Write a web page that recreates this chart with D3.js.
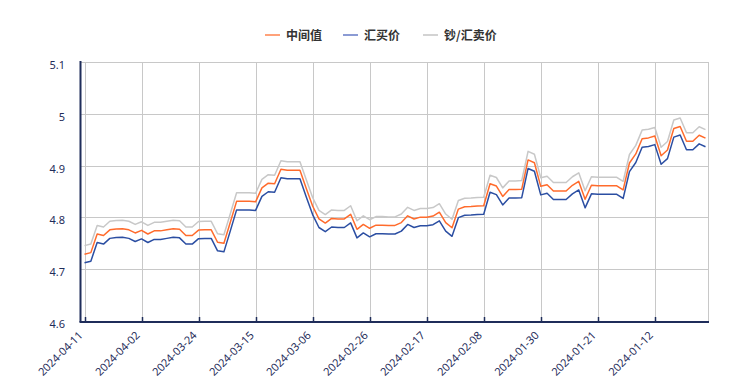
<!DOCTYPE html>
<html>
<head>
<meta charset="utf-8">
<script src="https://cdn.jsdelivr.net/npm/d3@7"></script>
<style>
  body { margin: 0; background: #fff; }
  svg text { font-family: "Noto Sans", "Noto Sans CJK SC", sans-serif; }
</style>
</head>
<body>
<svg id="chart" width="754" height="385"></svg>
<script>
// daily categories, newest first (left to right)
const firstDate = '2024-04-11';
const dayCount = 99;
const tickLabels = ['2024-04-11', '2024-04-02', '2024-03-24', '2024-03-15', '2024-03-06',
  '2024-02-26', '2024-02-17', '2024-02-08', '2024-01-30', '2024-01-21', '2024-01-12'];
const yTicks = [4.6, 4.7, 4.8, 4.9, 5, 5.1];

const seriesNames = ['中间值', '汇买价', '钞/汇卖价'];

const midValues = [
  4.729, 4.732, 4.768, 4.765, 4.776, 4.7775, 4.778, 4.776, 4.770, 4.775,
  4.768, 4.774, 4.774, 4.776, 4.778, 4.777, 4.765, 4.765, 4.7755, 4.776,
  4.776, 4.752, 4.750, 4.790, 4.831, 4.831, 4.831, 4.830, 4.857, 4.866,
  4.865, 4.893, 4.891, 4.891, 4.891, 4.856, 4.822, 4.797, 4.789, 4.798,
  4.797, 4.797, 4.806, 4.777, 4.7865, 4.779, 4.785, 4.785, 4.7845, 4.7845,
  4.790, 4.803, 4.797, 4.8005, 4.8005, 4.8025, 4.810, 4.790, 4.780, 4.816,
  4.8205, 4.821, 4.822, 4.8225, 4.865, 4.8605, 4.8405, 4.854, 4.854, 4.8545,
  4.911, 4.9055, 4.860, 4.863, 4.851, 4.851, 4.851, 4.862, 4.8695, 4.835,
  4.862, 4.861, 4.861, 4.861, 4.861, 4.853, 4.905, 4.9225, 4.952, 4.9535,
  4.957, 4.919, 4.930, 4.9715, 4.9755, 4.947, 4.947, 4.9585, 4.953
];

const buyValues = [
  4.7125, 4.7155, 4.7515, 4.7485, 4.7595, 4.761, 4.7615, 4.7595, 4.7535, 4.7585,
  4.7515, 4.7575, 4.7575, 4.7595, 4.7615, 4.7605, 4.7485, 4.7485, 4.759, 4.7595,
  4.7595, 4.7355, 4.7335, 4.7735, 4.8145, 4.8145, 4.8145, 4.8135, 4.8405, 4.8495,
  4.8485, 4.8765, 4.8745, 4.8745, 4.8745, 4.8395, 4.8055, 4.7805, 4.7725, 4.7815,
  4.7805, 4.7805, 4.7895, 4.7605, 4.770, 4.7625, 4.7685, 4.7685, 4.768, 4.768,
  4.7735, 4.7865, 4.7805, 4.784, 4.784, 4.786, 4.7935, 4.7735, 4.7635, 4.7995,
  4.804, 4.8045, 4.8055, 4.806, 4.8485, 4.844, 4.824, 4.8375, 4.8375, 4.838,
  4.8945, 4.889, 4.8435, 4.8465, 4.8345, 4.8345, 4.8345, 4.8455, 4.853, 4.8185,
  4.8455, 4.8445, 4.8445, 4.8445, 4.8445, 4.8365, 4.8885, 4.906, 4.9355, 4.937,
  4.9405, 4.9025, 4.9135, 4.955, 4.959, 4.9305, 4.9305, 4.942, 4.9365
];

const sellValues = [
  4.7455, 4.7485, 4.7845, 4.7815, 4.7925, 4.794, 4.7945, 4.7925, 4.7865, 4.7915,
  4.7845, 4.7905, 4.7905, 4.7925, 4.7945, 4.7935, 4.7815, 4.7815, 4.792, 4.7925,
  4.7925, 4.7685, 4.7665, 4.8065, 4.8475, 4.8475, 4.8475, 4.8465, 4.8735, 4.8825,
  4.8815, 4.9095, 4.9075, 4.9075, 4.9075, 4.8725, 4.8385, 4.8135, 4.8055, 4.8145,
  4.8135, 4.8135, 4.8225, 4.7935, 4.803, 4.7955, 4.8015, 4.8015, 4.801, 4.801,
  4.8065, 4.8195, 4.8135, 4.817, 4.817, 4.819, 4.8265, 4.8065, 4.7965, 4.8325,
  4.837, 4.8375, 4.8385, 4.839, 4.8815, 4.877, 4.857, 4.8705, 4.8705, 4.871,
  4.9275, 4.922, 4.8765, 4.8795, 4.8675, 4.8675, 4.8675, 4.8785, 4.886, 4.8515,
  4.8785, 4.8775, 4.8775, 4.8775, 4.8775, 4.8695, 4.9215, 4.939, 4.9685, 4.97,
  4.9735, 4.9355, 4.9465, 4.988, 4.992, 4.9635, 4.9635, 4.975, 4.9695
];

const lineColors = ['#ff6b2c', '#2b4ea2', '#c8c8c8'];
const legendColors = ['#ffa27a', '#8b9bd4', '#d3d3d3'];

const fmt = d3.timeFormat('%Y-%m-%d');
const start = d3.timeParse('%Y-%m-%d')(firstDate);
const dates = d3.range(dayCount).map(i => fmt(d3.timeDay.offset(start, -i)));

const svg = d3.select('#chart');
const plotLeft = 80.5, plotRight = 708, plotTop = 62, plotBottom = 321;
const navy = '#1f2d5a';

const x = d3.scalePoint().domain(dates).range([84.5, 705.5]);
const y = d3.scaleLinear().domain([4.6, 5.1]).range([plotBottom, plotTop]);

// grid
const grid = svg.append('g');
grid.selectAll('line.h').data(yTicks).join('line')
  .attr('x1', plotLeft).attr('x2', plotRight)
  .attr('y1', d => Math.round(y(d)) + 0.5).attr('y2', d => Math.round(y(d)) + 0.5)
  .attr('stroke', '#c8c8c8');
grid.selectAll('line.v').data(tickLabels).join('line')
  .attr('x1', d => Math.round(x(d)) + 0.5).attr('x2', d => Math.round(x(d)) + 0.5)
  .attr('y1', plotTop).attr('y2', plotBottom)
  .attr('stroke', '#c8c8c8');
grid.append('line')
  .attr('x1', plotRight + 0.5).attr('x2', plotRight + 0.5).attr('y1', plotTop).attr('y2', plotBottom)
  .attr('stroke', '#c8c8c8');

// lines
const line = d3.line().x((d, i) => x(dates[i])).y(d => y(d));
[sellValues, midValues, buyValues].forEach((vals, k) => {
  const col = [lineColors[2], lineColors[0], lineColors[1]][k];
  svg.append('path').datum(vals)
    .attr('d', line)
    .attr('fill', 'none')
    .attr('stroke', col)
    .attr('stroke-width', 1.5)
    .attr('stroke-linejoin', 'round');
});

// axes
svg.append('line').attr('x1', plotLeft).attr('x2', plotLeft).attr('y1', plotTop - 1).attr('y2', plotBottom + 1)
  .attr('stroke', navy).attr('stroke-width', 2);
svg.append('line').attr('x1', plotLeft - 1).attr('x2', plotRight + 1).attr('y1', plotBottom + 1).attr('y2', plotBottom + 1)
  .attr('stroke', navy).attr('stroke-width', 2);
svg.selectAll('line.tick').data(tickLabels).join('line')
  .attr('x1', d => Math.round(x(d)) + 0.5).attr('x2', d => Math.round(x(d)) + 0.5)
  .attr('y1', plotBottom - 4).attr('y2', plotBottom)
  .attr('stroke', navy).attr('stroke-width', 1.5);

svg.selectAll('text.ylab').data(yTicks).join('text')
  .attr('x', 65).attr('y', d => y(d) + 7)
  .attr('text-anchor', 'end')
  .attr('font-size', 11).attr('fill', navy)
  .text(d => d);

svg.selectAll('text.xlab').data(tickLabels).join('text')
  .attr('transform', d => `translate(${x(d) - 1},${plotBottom + 15}) rotate(-45)`)
  .attr('text-anchor', 'end')
  .attr('font-size', 11).attr('fill', navy)
  .text(d => d);

// legend
const legendX = [265, 343, 423];
const lg = svg.append('g');
seriesNames.forEach((name, i) => {
  lg.append('line')
    .attr('x1', legendX[i]).attr('x2', legendX[i] + 15)
    .attr('y1', 35).attr('y2', 35)
    .attr('stroke', legendColors[i]).attr('stroke-width', 2);
  lg.append('text')
    .attr('x', legendX[i] + 21).attr('y', 39.5)
    .attr('font-size', 12).attr('font-weight', 'bold').attr('fill', '#333')
    .style('font-family', '"Noto Sans CJK SC", sans-serif')
    .text(name);
});
</script>
</body>
</html>
